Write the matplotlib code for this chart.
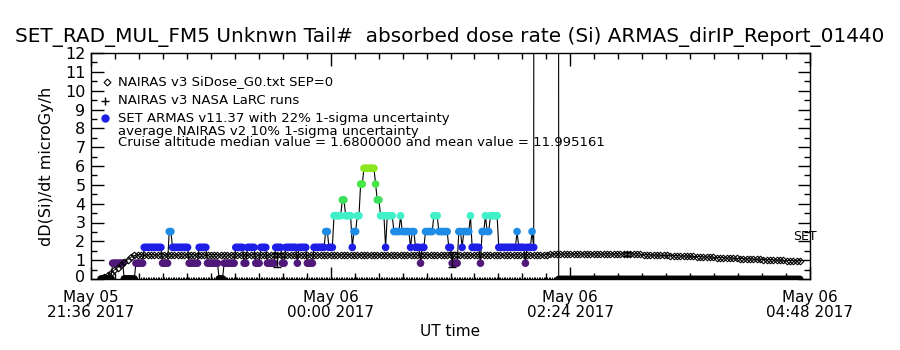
"""ARMAS absorbed dose rate vs NAIRAS, replotted in matplotlib (IDL-style layout)."""

import matplotlib

matplotlib.use("Agg")
import matplotlib.pyplot as plt
import matplotlib.transforms as mtransforms
import numpy as np
from matplotlib.ticker import MultipleLocator

# --- data -------------------------------------------------------------------
# time axis: minutes after May 05 21:36 UT (axis runs to 04:48 on May 06)
X_TICKS = [0, 144, 288, 432]
X_TICK_LABELS = ["May 05\n21:36 2017", "May 06\n00:00 2017",
                 "May 06\n02:24 2017", "May 06\n04:48 2017"]

# ARMAS dose-rate levels (quantized steps), microGy/h
ARMAS_LEVELS = [0.0, 0.84, 1.68, 2.52, 3.36, 4.20, 5.04, 5.88]
ARMAS_COLORS = ["#000000", "#501878", "#1e1ee6", "#1e8ce6",
                "#40f0c8", "#3ce05a", "#46e646", "#8ce61e"]

# 1-minute ARMAS samples written as runs: level index, number of samples
ARMAS_START = 6
ARMAS_RUN_LEVEL = [0, 1, 0, 1, 2, 1, 3, 2, 1, 2, 1, 0, 1, 2, 1, 2, 1, 2, 1, 2,
                   1, 2, 1, 2, 1, 2, 3, 2, 4, 5, 4, 2, 3, 4, 6, 7, 6, 5, 4, 2,
                   4, 3, 4, 3, 2, 3, 2, 1, 2, 3, 4, 3, 2, 1, 3, 2, 3, 4, 2, 1,
                   3, 4, 3, 4, 2, 3, 2, 1, 2, 3, 2]
ARMAS_RUN_COUNT = [7, 7, 7, 5, 11, 4, 2, 10, 6, 5, 7, 3, 7, 5, 2, 5, 3, 4, 5, 4,
                   2, 7, 1, 5, 4, 7, 2, 3, 5, 2, 4, 1, 2, 2, 2, 7, 1, 2, 3, 1,
                   4, 4, 1, 5, 1, 2, 3, 1, 2, 5, 3, 6, 2, 4, 2, 1, 4, 1, 5, 1,
                   2, 1, 2, 5, 11, 1, 4, 1, 3, 1, 1]
# off-scale spike and the zero readings after it
SPIKE_T = 273
SPIKE_V = 2600.0
ZERO_T0, ZERO_T1 = 281, 426

# NAIRAS v3 SiDose_G0 (every 2 minutes from minute 6)
NAIRAS_START = 6
NAIRAS_V3 = ([0.0, 0.08, 0.2, 0.33, 0.47, 0.6, 0.74, 0.88, 1.02, 1.15, 1.25]
             + [1.28] * 124
             + [1.33] * 28
             + [1.28, 1.28, 1.27, 1.27, 1.26, 1.26, 1.25, 1.25, 1.24, 1.24,
                1.23, 1.22, 1.22, 1.21, 1.20, 1.20, 1.19, 1.18, 1.17, 1.17,
                1.16, 1.15, 1.14, 1.13, 1.13, 1.12, 1.11, 1.10, 1.09, 1.08,
                1.08, 1.07, 1.06, 1.05, 1.04, 1.04, 1.03, 1.02, 1.01, 1.01,
                1.00, 0.99, 0.99, 0.98, 0.98, 0.97, 0.97, 0.97])

# NAIRAS v3 NASA LaRC runs (zero along the flight), 1-minute cadence
LARC_T0, LARC_T1 = 29, 280

# NAIRAS v2 averages with 1-sigma bars
V2_T = [112, 217, 322]
V2_V = [1.02, 1.02, 1.33]
V2_ERR = [0.37, 0.39, 0.10]

TITLE = "SET_RAD_MUL_FM5 Unknwn Tail#  absorbed dose rate (Si) ARMAS_dirIP_Report_01440"
LEGEND_LINES = ["NAIRAS v3 SiDose_G0.txt SEP=0",
                "NAIRAS v3 NASA LaRC runs",
                "SET ARMAS v11.37 with 22% 1-sigma uncertainty",
                "average NAIRAS v2 10% 1-sigma uncertainty",
                "Cruise altitude median value = 1.6800000 and mean value = 11.995161"]


def px(x, y):
    """pixel position in the 900x350 canvas -> figure fraction"""
    return x / 900.0, 1.0 - y / 350.0


def main():
    plt.rcParams["font.family"] = ["DejaVu Sans"]
    fig = plt.figure(figsize=(9, 3.5), dpi=100)
    fig.patch.set_facecolor("white")
    ax = fig.add_axes([91 / 900, 71 / 350, 719 / 900, 226 / 350])

    # ARMAS series
    lev = np.repeat(ARMAS_RUN_LEVEL, ARMAS_RUN_COUNT)
    t_a = ARMAS_START + np.arange(len(lev))
    v_a = np.array(ARMAS_LEVELS)[lev]
    c_a = [ARMAS_COLORS[i] for i in lev]
    t_z = np.arange(ZERO_T0, ZERO_T1 + 1)
    t_all = np.concatenate([t_a, [SPIKE_T], t_z])
    v_all = np.concatenate([v_a, [SPIKE_V], np.zeros(len(t_z))])
    ax.plot(t_all, v_all, color="black", lw=0.8, zorder=2)
    ax.scatter(t_a, v_a, c=c_a, s=30, marker="o", edgecolors="none", zorder=3)
    ax.scatter(t_z, np.zeros(len(t_z)), c="black", s=24, edgecolors="none", zorder=3)

    # NASA LaRC runs
    t_l = np.arange(LARC_T0, LARC_T1 + 1)
    ax.plot(t_l, np.zeros(len(t_l)), ls="none", marker="+", ms=3.5, mew=0.7,
            color="black", zorder=2)

    # NAIRAS v3 SiDose
    t_n = NAIRAS_START + 2 * np.arange(len(NAIRAS_V3))
    ax.plot(t_n, NAIRAS_V3, ls="-", lw=0.6, marker="D", ms=3.4, mfc="none",
            mec="black", mew=0.8, color="black", zorder=4)

    # NAIRAS v2 averages
    ax.errorbar(V2_T, V2_V, yerr=V2_ERR, fmt="none", ecolor="black",
                elinewidth=1, capsize=3, zorder=5)

    ax.set_xlim(0, 432)
    ax.set_ylim(0, 12)
    ax.set_xticks(X_TICKS)
    ax.set_xticklabels(X_TICK_LABELS, fontsize=11, linespacing=1.0)
    ax.xaxis.set_minor_locator(MultipleLocator(14.4))
    ax.set_yticks(range(13))
    ax.yaxis.set_minor_locator(MultipleLocator(0.5))
    ax.tick_params(axis="both", which="both", direction="in", top=True, right=True)
    ax.tick_params(axis="both", which="major", length=9, width=1)
    ax.tick_params(axis="both", which="minor", length=4.5, width=1)
    ax.tick_params(axis="x", which="major", pad=8)
    ax.tick_params(axis="y", labelsize=11.5, pad=4)
    for s in ax.spines.values():
        s.set_linewidth(1)
    # the "0" label sits a little above the bottom axis, as in the original
    zero_lbl = ax.yaxis.get_major_ticks()[0].label1
    zero_lbl.set_transform(zero_lbl.get_transform()
                           + mtransforms.ScaledTranslation(0, 0.035, fig.dpi_scale_trans))

    ax.set_xlabel("UT time", fontsize=11, labelpad=3)
    ax.set_ylabel("dD(Si)/dt microGy/h", fontsize=11.5, labelpad=8)

    fig.text(*px(450, 37), TITLE, fontsize=14.4, ha="center", va="center")

    # legend, drawn by hand as in the original
    fig.add_artist(plt.Line2D(*zip(px(107, 82)), marker="D", ms=3.5, mfc="none",
                              mec="black", mew=0.8, ls="none"))
    fig.add_artist(plt.Line2D(*zip(px(105, 101)), marker="+", ms=6, mew=1,
                              color="black", ls="none"))
    fig.add_artist(plt.Line2D(*zip(px(105, 118)), marker="o", ms=5,
                              color="#1e1ee6", ls="none"))
    for txt, y in zip(LEGEND_LINES, [82, 100, 118, 131, 143]):
        fig.text(*px(118, y), txt, fontsize=9.5, ha="left", va="center")

    fig.text(*px(805, 237), "SET", fontsize=9, ha="center", va="center")

    fig.savefig("out.png", dpi=100)
    plt.close(fig)


if __name__ == "__main__":
    main()
